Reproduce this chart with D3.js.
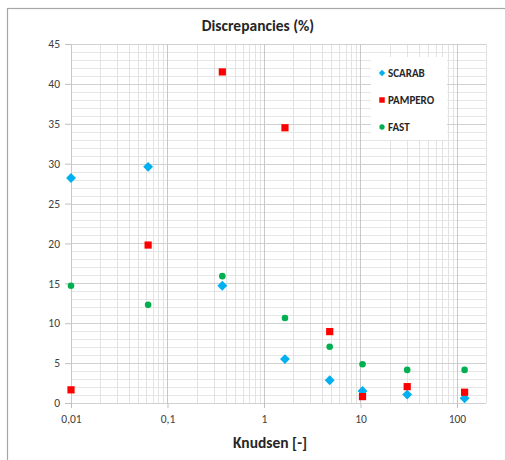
<!DOCTYPE html>
<html>
<head>
<meta charset="utf-8">
<script src="https://cdn.jsdelivr.net/npm/d3@7/dist/d3.min.js"></script>
<style>
  body { margin: 0; background: #fff; }
  svg text { font-family: Calibri, Carlito, "Liberation Sans", "Open Sans", sans-serif; }
</style>
</head>
<body>
<div id="chart"></div>
<script>
// Knudsen numbers (x) shared by all three series
const knudsen = [0.01, 0.063, 0.37, 1.65, 4.8, 10.5, 30.5, 120];

// discrepancies in %
const scarab  = [28.2, 29.6, 14.7, 5.5, 2.85, 1.5, 1.05, 0.6];
const pampero = [1.65, 19.8, 41.5, 34.5, 8.95, 0.8, 2.05, 1.35];
const fast    = [14.7, 12.3, 15.9, 10.65, 7.05, 4.85, 4.15, 4.15];

const xTicks = [0.01, 0.1, 1, 10, 100];
const xTickLabels = ["0,01", "0,1", "1", "10", "100"];
const yTicks = [0, 5, 10, 15, 20, 25, 30, 35, 40, 45];

const W = 505, H = 460;
const MARGIN = { top: 44, right: 19, bottom: 57, left: 71 };
const width = W - MARGIN.left - MARGIN.right;
const height = H - MARGIN.top - MARGIN.bottom;

const svg = d3.select("#chart").append("svg")
    .attr("width", W)
    .attr("height", H);

// outer chart frame (runs past the bottom/right of the picture)
svg.append("rect")
    .attr("x", 7.5).attr("y", 8.5)
    .attr("width", W + 20).attr("height", H + 20)
    .attr("fill", "#fff")
    .attr("stroke", "#a6a6a6")
    .attr("stroke-width", 1.2);

const g = svg.append("g")
    .attr("transform", `translate(${MARGIN.left},${MARGIN.top})`);

const x = d3.scaleLog().domain([0.01, 200]).range([0, width]);
const y = d3.scaleLinear().domain([0, 45]).range([height, 0]);

// minor grid
const minorX = [];
[0.01, 0.1, 1, 10, 100].forEach(d => {
    for (let k = 2; k <= 9; k++) if (d * k <= 200) minorX.push(d * k);
});
const minorY = d3.range(0, 46).filter(v => v % 5 !== 0);

g.append("g").selectAll("line").data(minorY).join("line")
    .attr("x1", 0).attr("x2", width)
    .attr("y1", d => Math.round(y(d)) + 0.5).attr("y2", d => Math.round(y(d)) + 0.5)
    .attr("stroke", "#e6e6e6");

g.append("g").selectAll("line").data(minorX).join("line")
    .attr("x1", d => Math.round(x(d)) + 0.5).attr("x2", d => Math.round(x(d)) + 0.5)
    .attr("y1", 0).attr("y2", height)
    .attr("stroke", "#e2e2e2");

// major grid
g.append("g").selectAll("line").data(yTicks).join("line")
    .attr("x1", 0).attr("x2", width)
    .attr("y1", d => Math.round(y(d)) + 0.5).attr("y2", d => Math.round(y(d)) + 0.5)
    .attr("stroke", "#d0d0d0");

g.append("g").selectAll("line").data(xTicks).join("line")
    .attr("x1", d => Math.round(x(d)) + 0.5).attr("x2", d => Math.round(x(d)) + 0.5)
    .attr("y1", 0).attr("y2", height)
    .attr("stroke", "#c8c8c8");

// axes
const xAxis = d3.axisBottom(x).tickValues(xTicks)
    .tickFormat((d, i) => xTickLabels[i]).tickSize(5).tickPadding(7);
const yAxis = d3.axisLeft(y).tickValues(yTicks).tickSize(6).tickPadding(5);

const gx = g.append("g").attr("transform", `translate(0,${height})`).call(xAxis);
const gy = g.append("g").call(yAxis);
[gx, gy].forEach(a => {
    a.select(".domain").remove();
    a.selectAll("line").attr("stroke", "#bfbfbf");
    a.selectAll("text").attr("fill", "#404040").style("font-size", "11.5px");
});

// series
const symbols = {
    scarab: d3.symbol().type(d3.symbolDiamond2 || d3.symbolDiamond).size(62),
    pampero: d3.symbol().type(d3.symbolSquare).size(52),
    fast: d3.symbol().type(d3.symbolCircle).size(34)
};
const series = [
    { name: "SCARAB", values: scarab, color: "#00b0f0", sym: symbols.scarab },
    { name: "PAMPERO", values: pampero, color: "#ff0000", sym: symbols.pampero },
    { name: "FAST", values: fast, color: "#00b050", sym: symbols.fast }
];

series.forEach(s => {
    g.append("g").selectAll("path").data(s.values).join("path")
        .attr("d", s.sym())
        .attr("transform", (d, i) => `translate(${x(knudsen[i])},${y(d)})`)
        .attr("fill", s.color);
});

// legend
const legend = svg.append("g").attr("transform", "translate(371,57)");
legend.append("rect")
    .attr("width", 76).attr("height", 83)
    .attr("fill", "#fff");
series.forEach((s, i) => {
    const row = legend.append("g").attr("transform", `translate(11,${16 + i * 27})`);
    const small = s.name === "SCARAB" ? d3.symbol().type(d3.symbolDiamond2 || d3.symbolDiamond).size(26)
        : s.name === "PAMPERO" ? d3.symbol().type(d3.symbolSquare).size(30)
        : d3.symbol().type(d3.symbolCircle).size(22);
    row.append("path").attr("d", small()).attr("fill", s.color);
    row.append("text")
        .attr("x", 6).attr("y", 4)
        .style("font-size", "11px").style("font-weight", "bold")
        .attr("fill", "#262626")
        .text(s.name);
});

// title
svg.append("text")
    .attr("x", 258).attr("y", 31)
    .attr("text-anchor", "middle")
    .style("font-size", "15.5px").style("font-weight", "bold")
    .attr("fill", "#262626")
    .text("Discrepancies (%)");

// x label
svg.append("text")
    .attr("x", 270).attr("y", 448)
    .attr("text-anchor", "middle")
    .style("font-size", "15.5px").style("font-weight", "bold")
    .attr("fill", "#262626")
    .text("Knudsen [-]");
</script>
</body>
</html>
